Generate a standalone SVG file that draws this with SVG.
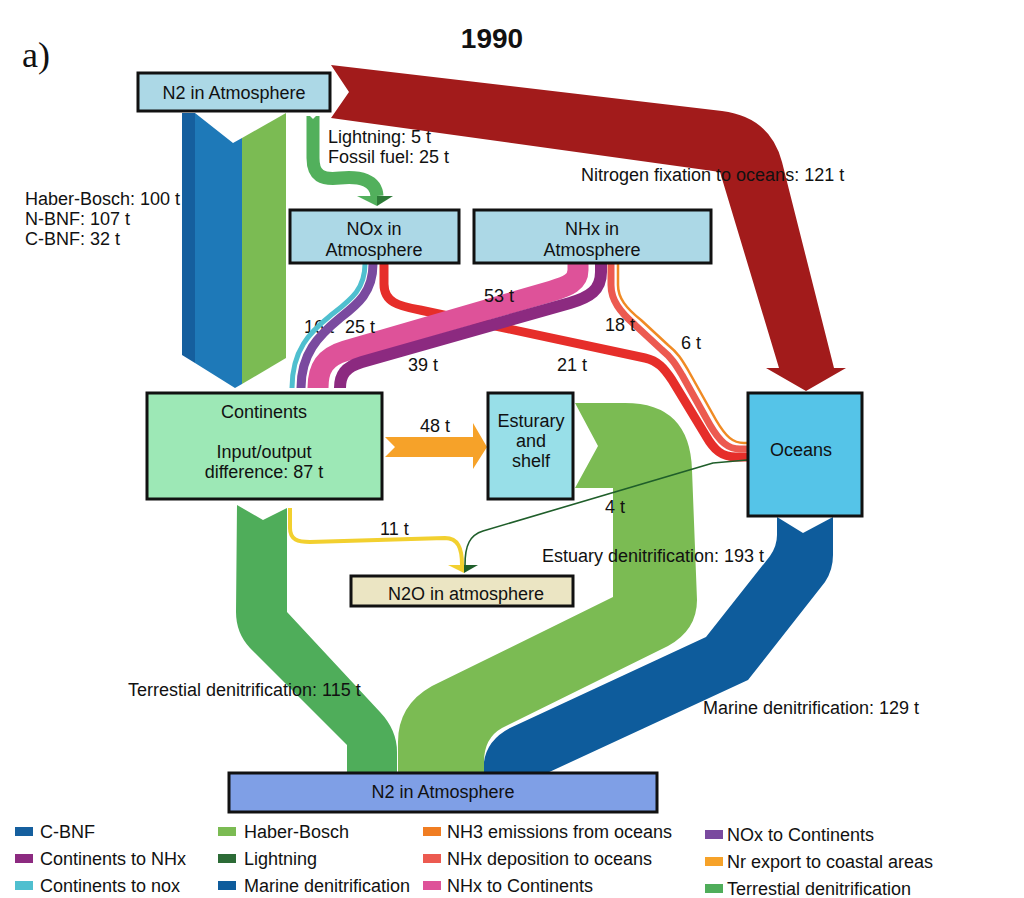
<svg xmlns="http://www.w3.org/2000/svg" width="1024" height="898" viewBox="0 0 1024 898">
<style>
text{font-family:"Liberation Sans",Arial,sans-serif;font-size:18px;fill:#111}
.c{text-anchor:middle}
.box{stroke:#111;stroke-width:3}
.lg{font-size:18px}
.fl{fill:none;stroke-linejoin:round}
</style>
<rect width="1024" height="898" fill="#fff"/>
<text x="492" y="48" class="c" style="font-weight:bold;font-size:28px">1990</text>
<text x="22" y="67" style="font-family:'Liberation Serif','Times New Roman',serif;font-size:36px">a)</text>

<g id="flow-labels-under">
<text x="25" y="205">Haber-Bosch: 100 t</text>
<text x="25" y="225">N-BNF: 107 t</text>
<text x="25" y="245">C-BNF: 32 t</text>
<text x="304" y="333">16 t</text>
</g>

<g id="connectors">
<!-- Haber-Bosch / BNF inputs to continents -->
<polygon points="182,113 195,113 195,363 182,355" fill="#155f9e"/>
<polygon points="195,113 233,143 242,138 242,384 235,388 195,363" fill="#1e79b8"/>
<polygon points="242,138 286,113 286,358 242,384" fill="#7bbb53"/>
<!-- Nitrogen fixation to oceans -->
<path d="M331,65 L722,111 Q770,117 782,162 L834,368 L846,368 L806,391 L766,368 L779,368 L720,172 L331,118 L349,92 Z" fill="#a21b1b"/>
<!-- lightning / fossil fuel -->
<path class="fl" d="M313,116 L313,158 C313,176 322,180 340,178 C360,176 376,180 377,196" stroke="#52b05c" stroke-width="13"/>
<polygon points="307,113 313,119 319,113 319,111 307,111" fill="#fff"/>
<polygon points="357,196 377,196 377,206" fill="#52b05c"/>
<polygon points="377,196 393,196 377,206" fill="#2c7a36"/>
<!-- NOx flows -->
<path class="fl" d="M365,264 C365,290 350,300 330,316 C310,332 292,350 292,388" stroke="#4fbfcf" stroke-width="5"/>
<path class="fl" d="M373,264 C373,292 358,304 340,318 C318,336 301,354 301,388" stroke="#7a4a9f" stroke-width="9"/>
<path class="fl" d="M384,264 L384,284 C384,302 398,306 420,310 L645,358 C658,361 664,368 672,380 L706,436 C714,450 722,457 736,457 L747,457" stroke="#e62e2a" stroke-width="9"/>
<!-- NHx flows -->
<path class="fl" d="M578,264 L578,270 C578,282 568,286 552,291 L345,351 C325,357 318,368 318,388" stroke="#de5299" stroke-width="21"/>
<path class="fl" d="M601,264 L601,272 C601,290 590,297 570,303 L362,362 C345,367 340,375 340,388" stroke="#8c2a80" stroke-width="12"/>
<path class="fl" d="M611,264 L611,285 C611,300 620,312 635,325 L662,350 C672,358 676,365 682,375 L710,425 C720,442 728,449 740,449 L747,449" stroke="#ec5a50" stroke-width="7"/>
<path class="fl" d="M618,264 L618,285 C618,298 626,308 641,320 L668,345 C678,353 682,360 688,370 L716,420 C726,437 733,443 744,443 L747,443" stroke="#f08a24" stroke-width="2.5"/>
<!-- Nr export to estuary -->
<polygon points="385,437 473,437 473,423 487,447 473,469 473,457 385,457 395,447" fill="#f6a229"/>
<!-- Terrestrial denitrification -->
<path d="M237,505 L263,520 L287,508 L287,612 L380,712 Q397,730 397,752 L397,774 L347,774 L347,745 L250,648 Q236,633 236,612 Z" fill="#4fad5a"/>
<!-- Estuary denitrification -->
<path d="M575,403 L625,403 Q690,403 692,470 L697,600 Q697,630 668,646 L502,728 Q484,738 484,762 L484,774 L398,774 L398,742 Q398,705 432,686 L613,597 L613,488 L575,488 L598,446 Z" fill="#7bbb53"/>
<!-- Marine denitrification -->
<path d="M777,517 L803,533 L833,517 L833,555 Q833,570 825,582 L748,680 L545,774 L484,774 L484,762 Q487,740 510,728 L706,637 L770,556 Q777,546 777,535 Z" fill="#0e5c9c"/>
<!-- N2O emissions -->
<path class="fl" d="M290,508 L290,528 C290,540 298,542 310,542 L445,538 C458,538 462,548 462,565" stroke="#f2d02f" stroke-width="4"/>
<path class="fl" d="M747,460 L713,463 L483,531 C470,535 465,545 465,565" stroke="#1f5e2a" stroke-width="1.6"/>
<polygon points="448,565 464,565 464,573" fill="#f2d02f"/>
<polygon points="464,565 478,565 464,573" fill="#1f5e2a"/>
</g>

<g id="flow-labels">
<text x="328" y="143">Lightning: 5 t</text>
<text x="328" y="163">Fossil fuel: 25 t</text>
<text x="581" y="181">Nitrogen fixation to oceans: 121 t</text>
<text x="345" y="333">25 t</text>
<text x="484" y="302">53 t</text>
<text x="408" y="371">39 t</text>
<text x="557" y="371">21 t</text>
<text x="605" y="331">18 t</text>
<text x="681" y="349">6 t</text>
<text x="420" y="432">48 t</text>
<text x="380" y="535">11 t</text>
<text x="605" y="513">4 t</text>
<text x="542" y="562">Estuary denitrification: 193 t</text>
<text x="128" y="696">Terrestial denitrification: 115 t</text>
<text x="703" y="714">Marine denitrification: 129 t</text>
</g>

<g id="n2-top">
<rect class="box" x="138" y="73" width="192" height="38" fill="#acd8e6"/>
<text x="234" y="99" class="c">N2 in Atmosphere</text>
</g>
<g id="nox">
<rect class="box" x="290" y="210" width="169" height="53" fill="#acd8e6"/>
<text x="374" y="235" class="c">NOx in</text>
<text x="374" y="256" class="c">Atmosphere</text>
</g>
<g id="nhx">
<rect class="box" x="474" y="210" width="237" height="53" fill="#acd8e6"/>
<text x="592" y="235" class="c">NHx in</text>
<text x="592" y="256" class="c">Atmosphere</text>
</g>
<g id="continents">
<rect class="box" x="147" y="393" width="235" height="106" fill="#9de8b6"/>
<text x="264" y="418" class="c">Continents</text>
<text x="264" y="458" class="c">Input/output</text>
<text x="264" y="478" class="c">difference: 87 t</text>
</g>
<g id="estuary">
<rect class="box" x="488" y="393" width="85" height="106" fill="#98dfe8"/>
<text x="531" y="427" class="c">Esturary</text>
<text x="531" y="447" class="c">and</text>
<text x="531" y="467" class="c">shelf</text>
</g>
<g id="oceans">
<rect class="box" x="748" y="393" width="114" height="123" fill="#55c4e8"/>
<text x="801" y="456" class="c">Oceans</text>
</g>
<g id="n2o">
<rect class="box" x="351" y="576" width="222" height="30" fill="#ebe5c3"/>
<text x="466" y="600" class="c">N2O in atmosphere</text>
</g>
<g id="n2-bottom">
<rect class="box" x="229" y="773" width="428" height="39" fill="#7f9fe6"/>
<text x="443" y="798" class="c">N2 in Atmosphere</text>
</g>

<g id="legend">
<rect x="15" y="827" width="18" height="9" fill="#155f9e"/><text class="lg" x="40" y="838">C-BNF</text>
<rect x="15" y="854" width="18" height="9" fill="#8c2a80"/><text class="lg" x="40" y="865">Continents to NHx</text>
<rect x="15" y="881" width="18" height="9" fill="#4fbfcf"/><text class="lg" x="40" y="892">Continents to nox</text>
<rect x="218" y="827" width="18" height="9" fill="#7bbb53"/><text class="lg" x="244" y="838">Haber-Bosch</text>
<rect x="218" y="854" width="18" height="9" fill="#2c6b36"/><text class="lg" x="244" y="865">Lightning</text>
<rect x="218" y="881" width="18" height="9" fill="#0e5c9c"/><text class="lg" x="244" y="892">Marine denitrification</text>
<rect x="423" y="827" width="18" height="9" fill="#f07d22"/><text class="lg" x="447" y="838">NH3 emissions from oceans</text>
<rect x="423" y="854" width="18" height="9" fill="#ec5a50"/><text class="lg" x="447" y="865">NHx deposition to oceans</text>
<rect x="423" y="881" width="18" height="9" fill="#de5299"/><text class="lg" x="447" y="892">NHx to Continents</text>
<rect x="705" y="830" width="18" height="9" fill="#7a4a9f"/><text class="lg" x="727" y="841">NOx to Continents</text>
<rect x="705" y="857" width="18" height="9" fill="#f6a229"/><text class="lg" x="727" y="868">Nr export to coastal areas</text>
<rect x="705" y="884" width="18" height="9" fill="#4fad5a"/><text class="lg" x="727" y="895">Terrestial denitrification</text>
</g>
</svg>
